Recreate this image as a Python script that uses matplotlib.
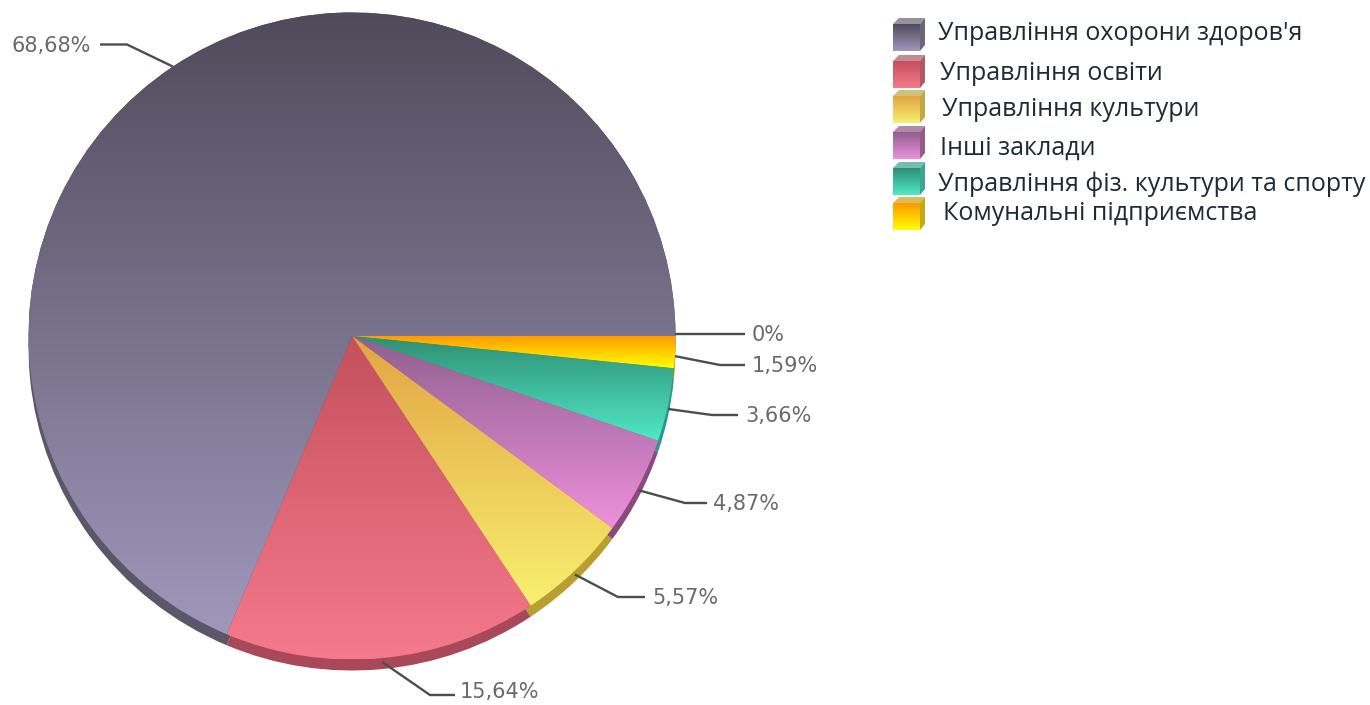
# -*- coding: utf-8 -*-
import matplotlib
matplotlib.use('Agg')
import matplotlib.pyplot as plt
import numpy as np
from matplotlib.colors import LinearSegmentedColormap
from matplotlib.patches import Polygon

W, H = 1370, 705

## data, clockwise from 3 o'clock
values = [0, 1.59, 3.66, 4.87, 5.57, 15.64, 68.68]
value_labels = ['0%', '1,59%', '3,66%', '4,87%', '5,57%', '15,64%', '68,68%']

legend_labels = ['Управління охорони здоров\'я', 'Управління освіти',
                 'Управління культури', 'Інші заклади',
                 'Управління фіз. культури та спорту',
                 'Комунальні підприємства']

## colours: top of gradient, bottom of gradient, rim
top_colors = ['#ff9800', '#ff9800', '#2f8f72', '#8f5f8f', '#e2a443', '#c4505c', '#4f4b5a']
bot_colors = ['#ffff00', '#ffff00', '#50e8c8', '#ee90dc', '#f8f070', '#f57a8c', '#a097bb']
rim_colors = ['#c0a000', '#c0a000', '#2a9a88', '#8a4a7a', '#b8a030', '#a84858', '#5a5868']

## leader layout (px, y down): elbow, line end, text start
elbows = [(700, 334), (720, 365), (712, 415), (685, 503), (618, 597), (430, 695), (127, 44.5)]
line_ends = [(745, 334), (745, 365), (738, 415), (707, 503), (645, 597), (455, 695), (100, 44.5)]
text_x = [752, 752, 745, 713, 652, 460, 91]

## legend layout (px, y down)
swatch_tops = [18, 55, 90, 126, 162, 197]
legend_x = [938, 940, 942, 940, 938, 943]
legend_y = [34, 74, 110, 148, 184, 214]

CX, CY, R = 352, 336, 323.5
DEPTH = 11


def py(y):
    return H - y


def gradient(ax, extent, c_top, c_bot, clip=None, zorder=2):
    cmap = LinearSegmentedColormap.from_list('g', [c_top, c_bot])
    img = np.linspace(1, 0, 256).reshape(-1, 1)
    im = ax.imshow(img, cmap=cmap, extent=extent, aspect='auto', origin='lower',
                   vmin=0, vmax=1, interpolation='bilinear', zorder=zorder)
    if clip is not None:
        im.set_clip_path(clip)
    return im


def swatch(ax, x, y, c_top, c_bot, rim):
    ## small cube: front face with gradient, top and right side
    size, d = 27, 6
    top_face = Polygon([(x, py(y + d)), (x + d, py(y)), (x + size + d - 1, py(y)),
                        (x + size, py(y + d))], closed=True, fc=rim, alpha=0.65, ec='none', zorder=3)
    side = Polygon([(x + size, py(y + d)), (x + size + d - 1, py(y)),
                    (x + size + d - 1, py(y + size)), (x + size, py(y + d + size))],
                   closed=True, fc=rim, alpha=0.9, ec='none', zorder=3)
    ax.add_patch(top_face)
    ax.add_patch(side)
    gradient(ax, [x, x + size, py(y + d + size), py(y + d)], c_top, c_bot, zorder=3)


fig = plt.figure(figsize=(W / 100, H / 100), dpi=100)
ax = fig.add_axes([0, 0, 1, 1])

## rim is the same pie moved down
rim, _ = ax.pie(values, colors=rim_colors, startangle=0, counterclock=False,
                center=(CX, py(CY + DEPTH)), radius=R, wedgeprops={'lw': 0, 'zorder': 1})

wedges, _ = ax.pie(values, colors=top_colors, startangle=0, counterclock=False,
                   center=(CX, py(CY)), radius=R, wedgeprops={'lw': 0, 'zorder': 2})

for w, c1, c2 in zip(wedges, top_colors, bot_colors):
    if w.theta2 - w.theta1 <= 0:
        continue
    box = w.get_patch_transform().transform_path(w.get_path()).get_extents()
    gradient(ax, [box.x0, box.x1, box.y0, box.y1], c1, c2, clip=w)

## leaders and value labels
cum = np.cumsum([0] + values[:-1])
for i, (v, lab) in enumerate(zip(values, value_labels)):
    ang = np.deg2rad((cum[i] + v / 2) / sum(values) * 360)
    sx = CX + R * np.cos(ang)
    sy = CY + R * np.sin(ang)
    if 0 < ang < np.pi:
        sy += 4
    if v == 0:
        sy = elbows[i][1]
    ex, ey = elbows[i]
    fx, fy = line_ends[i]
    ax.plot([sx, ex, fx], [py(sy), py(ey), py(fy)], color='#4d4d4d', lw=1.7, zorder=4,
            solid_capstyle='butt')
    ha = 'right' if fx < ex else 'left'
    ## bottom label has to stay inside the picture
    ax.text(text_x[i], py(min(fy + 1, 692)), lab, ha=ha, va='center', fontsize=15,
            color='#6a6a6a', family='DejaVu Sans')

## legend, same order as the pie but reversed
for i, lab in enumerate(legend_labels):
    j = len(values) - 1 - i
    swatch(ax, 893, swatch_tops[i], top_colors[j], bot_colors[j], rim_colors[j])
    ax.text(legend_x[i], py(legend_y[i]), lab, ha='left', va='center', fontsize=18,
            color='#1e2b36', family='Open Sans')

ax.set_xlim(0, W)
ax.set_ylim(0, H)
ax.set_aspect('auto')
ax.axis('off')
fig.savefig('out.png', dpi=100, facecolor='white')
